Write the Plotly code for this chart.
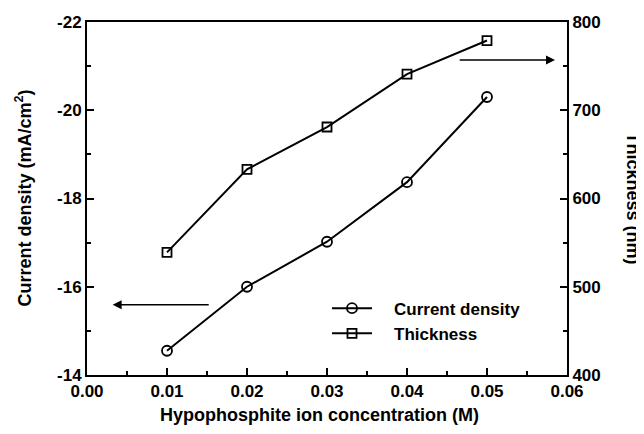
import plotly.graph_objects as go

conc = [0.01, 0.02, 0.03, 0.04, 0.05]
current_density = [-14.55, -16.0, -17.02, -18.37, -20.3]
thickness = [539, 633, 681, 741, 779]

x_ticks = [0.00, 0.01, 0.02, 0.03, 0.04, 0.05, 0.06]
x_tick_text = ["0.00", "0.01", "0.02", "0.03", "0.04", "0.05", "0.06"]
left_ticks = [-22, -20, -18, -16, -14]
right_ticks = [400, 500, 600, 700, 800]

FONT = "Liberation Sans, Arial, sans-serif"
PAD = "\u2002\u2002"

fig = go.Figure()
fig.add_trace(go.Scatter(
    x=conc, y=current_density, name=PAD + "Current density", mode="lines+markers",
    line=dict(color="black", width=2),
    marker=dict(symbol="circle-open", size=10, color="black", line=dict(width=1.8)),
    yaxis="y"))
fig.add_trace(go.Scatter(
    x=conc, y=thickness, name=PAD + "Thickness", mode="lines+markers",
    line=dict(color="black", width=2),
    marker=dict(symbol="square-open", size=9, color="black", line=dict(width=1.8)),
    yaxis="y2"))

tickfont = dict(family=FONT, size=17, color="black", weight="bold")
axis_common = dict(showgrid=False, zeroline=False, showline=True, linecolor="black",
                   linewidth=2, ticks="inside", ticklen=7, tickwidth=2, tickcolor="black",
                   tickfont=tickfont, automargin=False)

fig.update_layout(
    width=644, height=434,
    margin=dict(l=79, r=85, t=14, b=67, autoexpand=False),
    paper_bgcolor="white", plot_bgcolor="white",
    showlegend=True,
    legend=dict(x=0.5, y=0.239, xanchor="left", yanchor="top",
                bgcolor="rgba(0,0,0,0)",
                font=dict(family=FONT, size=17, color="black", weight="bold"),
                tracegroupgap=0, itemwidth=40),
    xaxis=dict(range=[0, 0.06], tickvals=x_ticks, ticktext=x_tick_text, mirror=True,
               minor=dict(ticks="inside", ticklen=4, tickwidth=2, tickcolor="black", dtick=0.005),
               **axis_common),
    yaxis=dict(range=[-14, -22], tickvals=left_ticks, ticktext=[str(v) for v in left_ticks],
               minor=dict(ticks="inside", ticklen=4, tickwidth=2, tickcolor="black", dtick=1),
               **axis_common),
    yaxis2=dict(range=[400, 800], overlaying="y", side="right", tickvals=right_ticks,
                minor=dict(ticks="inside", ticklen=4, tickwidth=2, tickcolor="black", dtick=50),
                **axis_common),
)

title_font = dict(family=FONT, size=18, color="black", weight="bold")
fig.add_annotation(text="Hypophosphite ion concentration (M)", xref="paper", yref="paper",
                   x=0.5 - 8/480, y=0, yshift=-40, showarrow=False, font=title_font,
                   xanchor="center", yanchor="middle")
fig.add_annotation(text="Current density (mA/cm<sup>2</sup>)", xref="paper", yref="paper",
                   x=0, xshift=-63, y=0.5, showarrow=False, font=title_font, textangle=-90,
                   xanchor="center", yanchor="middle")
fig.add_annotation(text="Thickness (nm)", xref="paper", yref="paper",
                   x=1, xshift=66, y=0.5, showarrow=False, font=title_font, textangle=90,
                   xanchor="center", yanchor="middle")

# direction arrows
left_arrow = dict(x_tail=0.0154, x_head=0.0032, y=-15.59)
right_arrow = dict(x_tail=0.0464, x_head=0.0585, y=-21.14)
for a in (left_arrow, right_arrow):
    fig.add_annotation(x=a["x_head"], y=a["y"], ax=a["x_tail"], ay=a["y"],
                       xref="x", yref="y", axref="x", ayref="y", text="",
                       showarrow=True, arrowhead=2, arrowsize=1.2, arrowwidth=1.5,
                       arrowcolor="black")

fig.write_html("out.html")
